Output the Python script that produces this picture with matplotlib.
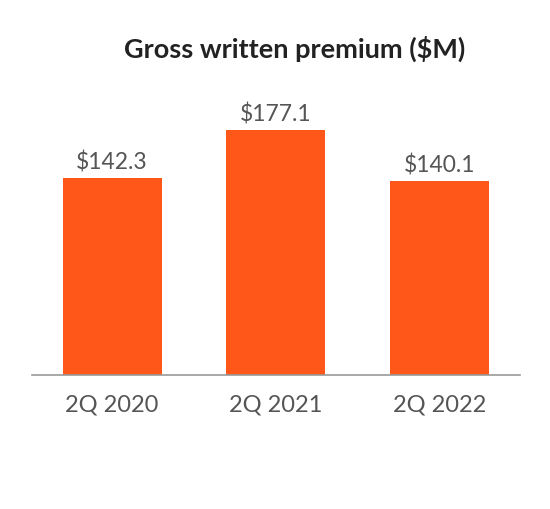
import matplotlib

matplotlib.use("Agg")

import matplotlib.pyplot as plt

periods = ["2Q 2020", "2Q 2021", "2Q 2022"]
premium = [142.3, 177.1, 140.1]

plt.rcParams["font.family"] = ["Lato", "DejaVu Sans"]

figure = plt.figure(figsize=(5.5, 5.1), dpi=100)
axis = figure.add_axes([0.058, 0.2627, 0.887, 0.5424])

positions = range(len(periods))
bars = axis.bar(positions, premium, width=0.605, color="#FF5719")
for bar, value in zip(bars, premium):
    axis.text(bar.get_x() + bar.get_width() / 2, value + 4, f"${value:.1f}",
              ha="center", va="bottom", fontsize=16.5, color="#555555")

axis.set_xlim(-0.49, 2.49)
axis.set_ylim(0, 200)
axis.set_xticks(list(positions))
axis.set_xticklabels(periods, fontsize=17, color="#555555")
axis.tick_params(axis="x", length=0, pad=13)
axis.set_yticks([])
for side in ("top", "right", "left"):
    axis.spines[side].set_visible(False)
axis.spines["bottom"].set_color("#999999")
axis.spines["bottom"].set_linewidth(1.2)

figure.text(0.535, 0.905, "Gross written premium ($M)", ha="center", va="center",
            fontsize=19.5, fontweight="bold", color="#222222")

figure.savefig("out.png", dpi=100)
plt.close(figure)
